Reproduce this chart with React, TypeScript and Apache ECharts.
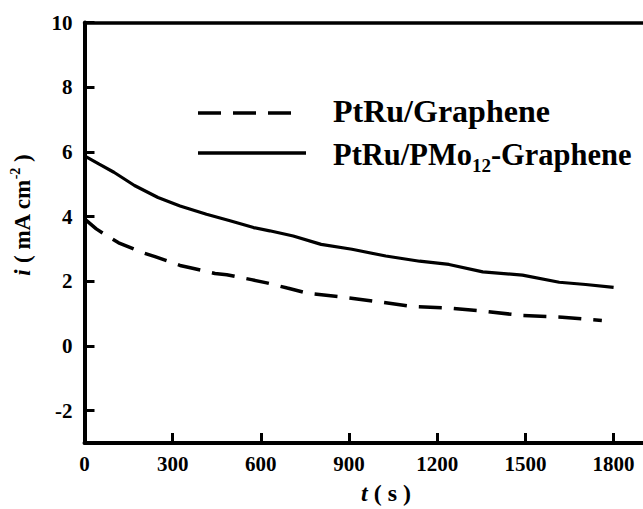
import React, { useEffect, useRef } from "react";
import * as echarts from "echarts";

const xTicks = [0, 300, 600, 900, 1200, 1500, 1800];
const yTicks = [-2, 0, 2, 4, 6, 8, 10];

const dashedName = "PtRu/Graphene";
const solidName = "PtRu/PMo12-Graphene";

const solidT = [0, 50, 100, 170, 250, 325, 415, 495, 575, 630, 710, 805, 910, 1025, 1140, 1240, 1355, 1490, 1615, 1705, 1800];
const solidI = [5.88, 5.62, 5.37, 4.96, 4.59, 4.33, 4.07, 3.87, 3.66, 3.56, 3.4, 3.14, 2.99, 2.78, 2.62, 2.52, 2.29, 2.19, 1.97, 1.9, 1.81];

const dashedT = [0, 40, 77, 116, 200, 240, 325, 360, 444, 484, 568, 620, 690, 765, 880, 990, 1115, 1240, 1365, 1490, 1625, 1760];
const dashedI = [3.93, 3.62, 3.4, 3.19, 2.88, 2.76, 2.49, 2.42, 2.24, 2.2, 2.05, 1.95, 1.79, 1.62, 1.51, 1.38, 1.22, 1.17, 1.07, 0.94, 0.89, 0.79];

const FONT = '"Liberation Serif", "Times New Roman", serif';

export default function App() {
  const ref = useRef<HTMLDivElement>(null);
  useEffect(() => {
    document.body.style.margin = "0";
    const chart = echarts.init(ref.current!, undefined, { renderer: "svg" });
    const zip = (t: number[], v: number[]) => t.map((x, i) => [x, v[i]]);
    const axisCommon = {
      axisLine: { show: true, onZero: false, lineStyle: { color: "#000", width: 4 } },
      splitLine: { show: false },
    };
    chart.setOption({
      animation: false,
      backgroundColor: "#fff",
      grid: { left: 84.5, top: 22.5, bottom: 66, right: -2, containLabel: false },
      xAxis: [
        {
          type: "value",
          min: 0,
          max: 1900,
          ...axisCommon,
          axisTick: { show: true, inside: true, length: 10, customValues: xTicks, lineStyle: { color: "#000", width: 3 } },
          axisLabel: {
            customValues: xTicks,
            formatter: (v: number) => String(v),
            margin: 10,
            color: "#000",
            fontFamily: FONT,
            fontWeight: "bold",
            fontSize: 21,
          },
        },
        {
          type: "value",
          position: "top",
          min: 0,
          max: 1900,
          axisLine: { show: true, onZero: false, lineStyle: { color: "#000", width: 3.5 } },
          axisTick: { show: false },
          axisLabel: { show: false },
          splitLine: { show: false },
        },
      ],
      yAxis: {
        type: "value",
        min: -3,
        max: 10,
        ...axisCommon,
        axisTick: { show: true, inside: true, length: 10, customValues: yTicks, lineStyle: { color: "#000", width: 3 } },
        axisLabel: {
          customValues: yTicks,
          formatter: (v: number) => String(v),
          margin: 12,
          color: "#000",
          fontFamily: FONT,
          fontWeight: "bold",
          fontSize: 21,
        },
      },
      series: [
        {
          name: dashedName,
          type: "line",
          xAxisIndex: 0,
          data: zip(dashedT, dashedI),
          showSymbol: false,
          symbol: "none",
          lineStyle: { color: "#000", width: 3.5, type: [23, 12] },
        },
        {
          name: solidName,
          type: "line",
          xAxisIndex: 0,
          data: zip(solidT, solidI),
          showSymbol: false,
          symbol: "none",
          lineStyle: { color: "#000", width: 3.2 },
        },
      ],
      graphic: [
        {
          type: "line",
          shape: { x1: 198, y1: 113, x2: 291, y2: 113 },
          style: { stroke: "#000", lineWidth: 3.5, lineDash: [23, 12] },
        },
        {
          type: "line",
          shape: { x1: 198, y1: 153, x2: 306, y2: 153 },
          style: { stroke: "#000", lineWidth: 3.5 },
        },
        {
          type: "text",
          x: 333,
          y: 111,
          style: {
            text: dashedName,
            fill: "#000",
            font: `bold 32px ${FONT}`,
            verticalAlign: "middle",
          },
        },
        {
          type: "text",
          x: 333,
          y: 155,
          style: {
            text: "{a|PtRu/PMo}{s|12}{a|-Graphene}",
            fill: "#000",
            verticalAlign: "middle",
            rich: {
              a: { fontFamily: FONT, fontWeight: "bold", fontSize: 30.5, lineHeight: 40, fill: "#000" },
              s: { fontFamily: FONT, fontWeight: "bold", fontSize: 19, verticalAlign: "bottom", lineHeight: 14, fill: "#000" },
            },
          },
        },
        {
          type: "text",
          x: 22,
          y: 215,
          rotation: Math.PI / 2,
          style: {
            text: "{i|i}{a| ( mA cm}{s|-2}{a| )}",
            fill: "#000",
            align: "center",
            verticalAlign: "middle",
            rich: {
              i: { fontFamily: FONT, fontWeight: "bold", fontStyle: "italic", fontSize: 23, lineHeight: 28, fill: "#000" },
              a: { fontFamily: FONT, fontWeight: "bold", fontSize: 23, lineHeight: 28, fill: "#000" },
              s: { fontFamily: FONT, fontWeight: "bold", fontSize: 14, verticalAlign: "top", lineHeight: 14, fill: "#000" },
            },
          },
        },
        {
          type: "text",
          x: 386,
          y: 493,
          style: {
            text: "{i|t}{a| ( s )}",
            fill: "#000",
            align: "center",
            verticalAlign: "middle",
            rich: {
              i: { fontFamily: FONT, fontWeight: "bold", fontStyle: "italic", fontSize: 24, fill: "#000" },
              a: { fontFamily: FONT, fontWeight: "bold", fontSize: 24, fill: "#000" },
            },
          },
        },
      ],
    });
    return () => chart.dispose();
  }, []);
  return <div ref={ref} style={{ position: "fixed", left: 0, top: 0, width: 643, height: 509 }} />;
}
